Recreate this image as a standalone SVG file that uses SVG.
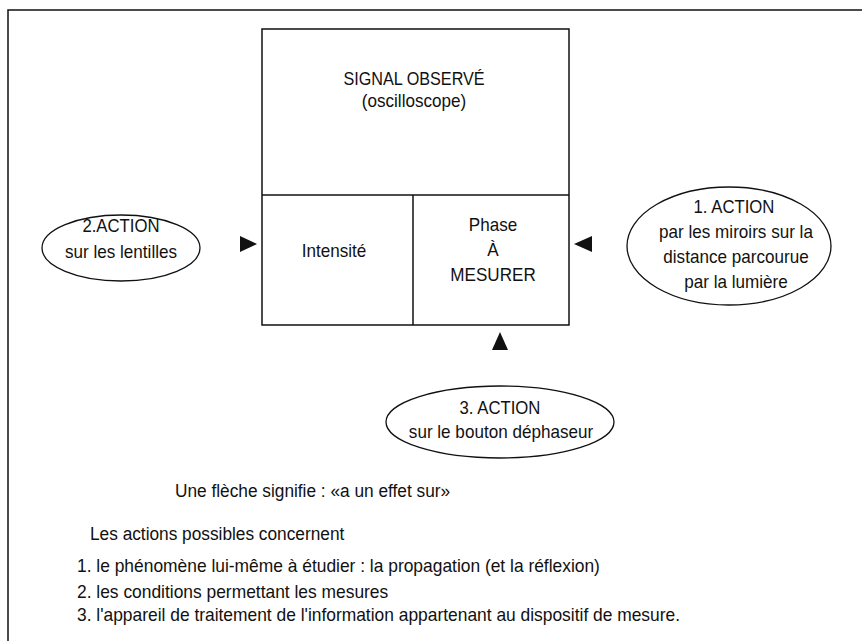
<svg xmlns="http://www.w3.org/2000/svg" width="862" height="641" viewBox="0 0 862 641">
<style>
text{font-family:"Liberation Sans",Arial,sans-serif;font-size:18px;fill:#111}
.c{text-anchor:middle}
.ln{fill:none;stroke:#111;stroke-width:1.5}
.el{fill:none;stroke:#111;stroke-width:1.3}
.ar{fill:#111;stroke:none}
</style>
<rect width="862" height="641" fill="#fff"/>
<g id="frame"><path class="ln" d="M8,641 V10 H862"/></g>
<g id="signal">
<rect class="ln" x="262" y="29" width="307" height="296"/>
<line class="ln" x1="262" y1="195" x2="569" y2="195"/>
<text class="c" transform="matrix(0.9 0 0 1 414 85)">SIGNAL OBSERVÉ</text>
<text class="c" transform="matrix(0.95 0 0 1 414 107)">(oscilloscope)</text>
</g>
<g id="intensite">
<line class="ln" x1="413" y1="195" x2="413" y2="325"/>
<text class="c" transform="matrix(0.95 0 0 1 334 257)">Intensité</text>
</g>
<g id="phase">
<text class="c" transform="matrix(0.95 0 0 1 493 231)">Phase</text>
<text class="c" transform="matrix(0.95 0 0 1 493 256)">À</text>
<text class="c" transform="matrix(0.95 0 0 1 493 281)">MESURER</text>
</g>
<g id="action2">
<ellipse class="el" cx="121" cy="248" rx="79" ry="33"/>
<text class="c" transform="matrix(0.93 0 0 1 121 232)">2.ACTION</text>
<text class="c" transform="matrix(0.95 0 0 1 121 258)">sur les lentilles</text>
</g>
<g id="action1">
<ellipse class="el" cx="729" cy="246" rx="102" ry="59"/>
<text class="c" transform="matrix(0.93 0 0 1 734 213)">1. ACTION</text>
<text class="c" transform="matrix(0.95 0 0 1 736 238)">par les miroirs sur la</text>
<text class="c" transform="matrix(0.95 0 0 1 736 263)">distance parcourue</text>
<text class="c" transform="matrix(0.95 0 0 1 736 288)">par la lumière</text>
</g>
<g id="action3">
<ellipse class="el" cx="500" cy="422" rx="114" ry="36"/>
<text class="c" transform="matrix(0.93 0 0 1 500 414)">3. ACTION</text>
<text class="c" transform="matrix(0.95 0 0 1 501 438)">sur le bouton déphaseur</text>
</g>
<g id="connectors">
<polygon class="ar" points="240,236 257,244 240,252"/>
<polygon class="ar" points="592,236 574,244 592,252"/>
<polygon class="ar" points="492,350 500,332 508,350"/>
</g>
<g id="legend">
<text transform="matrix(0.96 0 0 1 175 497)">Une flèche signifie : «a un effet sur»</text>
<text transform="matrix(0.96 0 0 1 90 540)">Les actions possibles concernent</text>
<text transform="matrix(0.967 0 0 1 77 572)">1. le phénomène lui-même à étudier : la propagation (et la réflexion)</text>
<text transform="matrix(0.967 0 0 1 77 598)">2. les conditions permettant les mesures</text>
<text transform="matrix(0.967 0 0 1 77 621)">3. l'appareil de traitement de l'information appartenant au dispositif de mesure.</text>
</g>
</svg>
